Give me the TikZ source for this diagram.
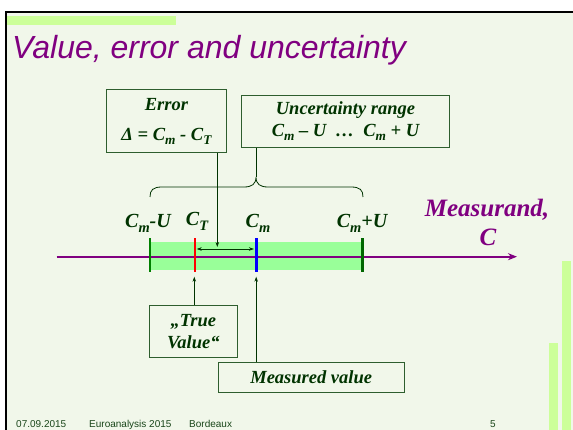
\documentclass[tikz,border=0pt]{standalone}
\usepackage{fontspec}
\usepackage{graphicx}
\setmainfont{Liberation Serif}
\newfontfamily\arialf{Liberation Sans}
\usetikzlibrary{arrows.meta}
\newcommand\sbs[1]{\raisebox{-0.22em}{\scalebox{0.72}{#1}}}
\definecolor{bg}{HTML}{F1F7EA}
\definecolor{barg}{HTML}{CCFF99}
\definecolor{dgreen}{HTML}{003300}
\definecolor{boxline}{HTML}{2E5E2E}
\definecolor{purp}{HTML}{800080}
\definecolor{band}{HTML}{99FF99}
\definecolor{tickg}{HTML}{008000}
\definecolor{tickgd}{HTML}{006600}
\definecolor{footc}{HTML}{1A461A}
\begin{document}
\begin{tikzpicture}[x=1pt,y=-1pt,
  lbl/.style={font=\fontsize{18.5}{22}\selectfont\bfseries\itshape, text=dgreen},
  axlbl/.style={font=\fontsize{20}{22}\selectfont\bfseries\itshape, text=dgreen, anchor=base, inner sep=0pt},
  tbox/.style={draw=boxline, line width=1pt, inner sep=0pt, align=center, lbl},
  arr/.style={-{Stealth[length=5pt,width=3.5pt]}, draw=dgreen, line width=0.7pt},
  tickline/.style={line width=2.6pt},
  foot/.style={font=\arialf\fontsize{10}{12}\selectfont, text=footc, anchor=base west, inner sep=0pt}]
\useasboundingbox (0,0) rectangle (573,430);
% background and frame
\fill[white] (0,0) rectangle (573,430);
\fill[bg] (6,12) rectangle (573,430);
\draw[black, line width=2.5pt] (6,430) -- (6,12) -- (573,12);
\fill[barg] (7,16) rectangle (176,25);
\fill[barg] (549,343) rectangle (558,430);
\fill[barg] (562,261) rectangle (571,430);
% title
\node[anchor=base west, inner sep=0pt, text=purp, font=\arialf\itshape\fontsize{32}{34}\selectfont] (title) at (12,59) {Value, error and uncertainty};
% band and axis
\fill[band] (150,241.7) rectangle (363,270);
\coordinate (axs) at (56.7,256.7);
\coordinate (axe) at (517,256.7);
\draw[purp, line width=1.8pt, -{Stealth[length=9pt,width=7pt]}] (axs) -- (axe);
% ticks
\draw[tickline, tickg] (150,238.3) -- (150,271.7);
\draw[tickline, red] (195,238.3) -- (195,271.7);
\draw[tickline, blue] (256.7,238.3) -- (256.7,271.7);
\draw[tickline, tickgd] (362.7,238.3) -- (362.7,271.7);
% axis labels
\node[axlbl] (lcl) at (148,228) {C\sbs{m}-U};
\node[axlbl] (lct) at (197,226) {C\sbs{T}};
\node[axlbl] (lcm) at (258,228) {C\sbs{m}};
\node[axlbl] (lcr) at (362,228) {C\sbs{m}+U};
\node[anchor=base, inner sep=0pt, text=purp, font=\fontsize{25}{27}\selectfont\bfseries\itshape] (meas) at (487,217) {Measurand,};
\node[anchor=base, inner sep=0pt, text=purp, font=\fontsize{25}{27}\selectfont\bfseries\itshape] (measc) at (488,246) {C};
% error double arrow
\coordinate (da) at (196.7,249);
\coordinate (db) at (254,249);
\coordinate (dmid) at (217.3,247);
\draw[draw=dgreen, line width=0.7pt, {Stealth[length=5pt,width=3.5pt]}-{Stealth[length=5pt,width=3.5pt]}] (da) -- (db);
% boxes
\node[tbox, minimum width=120.7pt, minimum height=63.4pt] (err) at (166.4,121) {Error\\[8pt]\textit{Δ} = C\sbs{m} - C\sbs{T}};
\node[tbox, minimum width=207.6pt, minimum height=52.7pt] (unc) at (345.5,121.4) {Uncertainty range\\C\sbs{m} – U \ … \ C\sbs{m} + U};
\node[tbox, minimum width=88pt, minimum height=52.7pt] (tv) at (193.3,331.4) {„True\\Value“};
\node[tbox, minimum width=185.7pt, minimum height=29.6pt] (mv) at (311.2,377.5) {Measured value};
% brace
\coordinate (btip) at (256,177);
\draw[dgreen, line width=0.8pt] (150,197) .. controls (150,190) and (153,187) .. (162,187) -- (244,187) .. controls (252,187) and (256,184) .. (btip) .. controls (256,184) and (260,187) .. (268,187) -- (351,187) .. controls (360,187) and (363,190) .. (363,197);
\draw[dgreen, line width=0.8pt] (unc.south -| btip) -- (btip);
% connectors
\draw[arr] (err.south -| dmid) -- (dmid);
\coordinate (tvtip) at (194.3,276.7);
\coordinate (mvtip) at (256.2,276.7);
\draw[arr] (tv.north -| tvtip) -- (tvtip);
\draw[arr] (mv.north -| mvtip) -- (mvtip);
% footer
\node[foot] (f1) at (16,427.5) {07.09.2015};
\node[foot] (f2) at (89,427.5) {Euroanalysis 2015};
\node[foot] (f3) at (189,427.5) {Bordeaux};
\node[foot] (f4) at (490,427.5) {5};
\end{tikzpicture}
\end{document}
